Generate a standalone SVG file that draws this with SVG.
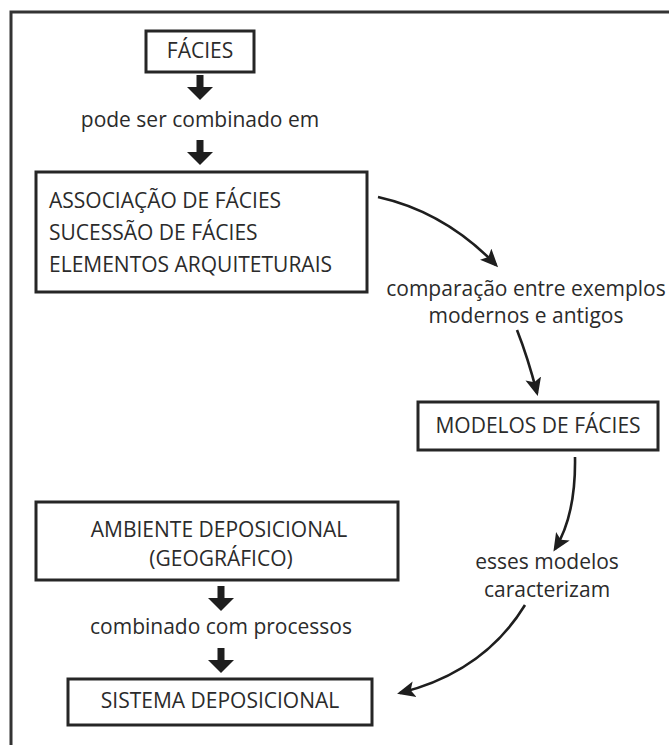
<svg xmlns="http://www.w3.org/2000/svg" width="669" height="745" viewBox="0 0 669 745">
<style>
  .box{fill:#fff;stroke:#262626;stroke-width:3}
  .t{font-family:"Open Sans","Noto Sans","DejaVu Sans",sans-serif;font-size:21px;fill:#2b2b2b}
  .c{text-anchor:middle}
  .curve{fill:none;stroke:#1e1e1e;stroke-width:2.6;marker-end:url(#head)}
  .frame{fill:none;stroke:#333;stroke-width:3}
</style>
<defs>
  <marker id="head" markerUnits="userSpaceOnUse" markerWidth="19" markerHeight="17" refX="15" refY="8" orient="auto" viewBox="0 0 19 16">
    <path d="M0,0 L18,8 L0,16 L4,8 Z" fill="#1e1e1e"/>
  </marker>
  <g id="down">
    <rect x="-3.5" y="0" width="7" height="13" fill="#1e1e1e"/>
    <path d="M-13,12 L13,12 L0,25 Z" fill="#1e1e1e"/>
  </g>
</defs>
<rect width="669" height="745" fill="#fff"/>
<path class="frame" d="M11,745 V12 H669"/>

<g id="facies">
  <rect class="box" x="146" y="31" width="108" height="41"/>
  <text class="t c" x="200" y="58">FÁCIES</text>
</g>
<g id="label-pode">
  <text class="t c" x="200" y="127">pode ser combinado em</text>
</g>
<g id="associacao">
  <rect class="box" x="36" y="172" width="331" height="120"/>
  <text class="t" x="49" y="208">ASSOCIAÇÃO DE FÁCIES</text>
  <text class="t" x="49" y="240">SUCESSÃO DE FÁCIES</text>
  <text class="t" x="49" y="272">ELEMENTOS ARQUITETURAIS</text>
</g>
<g id="label-comparacao">
  <text class="t c" x="526" y="296">comparação entre exemplos</text>
  <text class="t c" x="526" y="323">modernos e antigos</text>
</g>
<g id="modelos">
  <rect class="box" x="418" y="402" width="240" height="48"/>
  <text class="t c" x="538" y="433">MODELOS DE FÁCIES</text>
</g>
<g id="label-esses">
  <text class="t c" x="547" y="569">esses modelos</text>
  <text class="t c" x="547" y="597">caracterizam</text>
</g>
<g id="ambiente">
  <rect class="box" x="36" y="502" width="362" height="78"/>
  <text class="t c" x="219" y="537">AMBIENTE DEPOSICIONAL</text>
  <text class="t c" x="221" y="566">(GEOGRÁFICO)</text>
</g>
<g id="label-combinado">
  <text class="t c" x="221" y="634">combinado com processos</text>
</g>
<g id="sistema">
  <rect class="box" x="68" y="679" width="304" height="46"/>
  <text class="t c" x="220" y="708">SISTEMA DEPOSICIONAL</text>
</g>

<g id="connectors">
  <use href="#down" x="200" y="75"/>
  <use href="#down" x="200" y="140"/>
  <use href="#down" x="221" y="586"/>
  <use href="#down" x="221" y="648"/>
  <path class="curve" d="M378,197 Q445,212 496,265"/>
  <path class="curve" d="M517,330 Q528,358 537,393"/>
  <path class="curve" d="M575,457 Q576,515 555,549"/>
  <path class="curve" d="M525,605 Q484,672 400,693"/>
</g>
</svg>
